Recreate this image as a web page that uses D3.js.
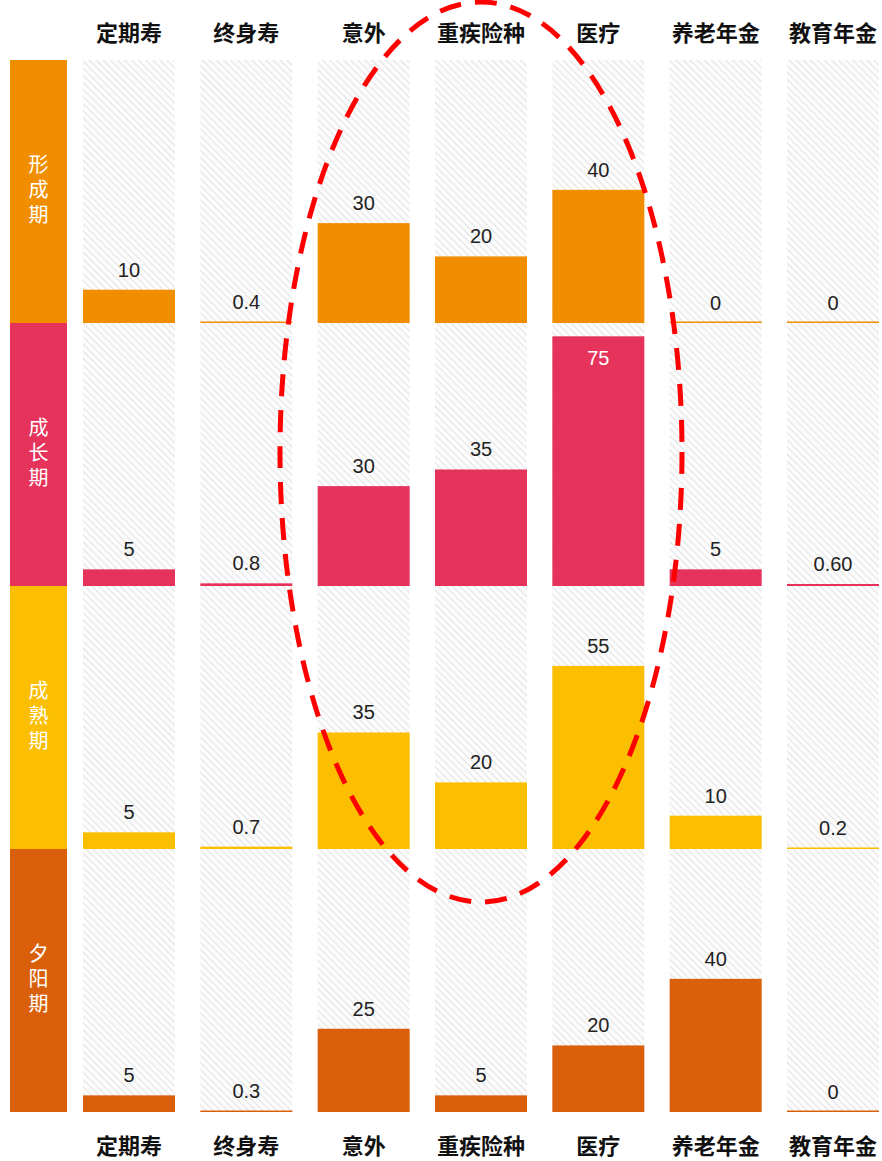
<!DOCTYPE html>
<html>
<head>
<meta charset="utf-8">
<script src="https://cdn.jsdelivr.net/npm/d3@7"></script>
<style>
  html, body { margin: 0; padding: 0; background: #fff; }
  svg { display: block; }
</style>
</head>
<body>
<script>
// Insurance needs by life stage
const categories = ['定期寿', '终身寿', '意外', '重疾险种', '医疗', '养老年金', '教育年金'];
const stages = ['形成期', '成长期', '成熟期', '夕阳期'];
const stageColors = ['#F18E00', '#E5335C', '#FBBE00', '#D95F0B'];

const valuesFormation = [10, 0.4, 30, 20, 40, 0, 0];
const valuesGrowth    = [5, 0.8, 30, 35, 75, 5, 0.6];
const valuesMature    = [5, 0.7, 35, 20, 55, 10, 0.2];
const valuesSunset    = [5, 0.3, 25, 5, 20, 40, 0];

const labelsFormation = ['10', '0.4', '30', '20', '40', '0', '0'];
const labelsGrowth    = ['5', '0.8', '30', '35', '75', '5', '0.60'];
const labelsMature    = ['5', '0.7', '35', '20', '55', '10', '0.2'];
const labelsSunset    = ['5', '0.3', '25', '5', '20', '40', '0'];

const stageValues = [valuesFormation, valuesGrowth, valuesMature, valuesSunset];
const stageLabels = [labelsFormation, labelsGrowth, labelsMature, labelsSunset];

const W = 882, H = 1161;
const svg = d3.select('body').append('svg').attr('width', W).attr('height', H);

// diagonal hatch for column backgrounds
const defs = svg.append('defs');
const pat = defs.append('pattern')
  .attr('id', 'hatch').attr('patternUnits', 'userSpaceOnUse')
  .attr('width', 5).attr('height', 5)
  .attr('patternTransform', 'rotate(-45)');
pat.append('rect').attr('width', 5).attr('height', 5).attr('fill', '#fcfcfc');
pat.append('line').attr('x1', 0).attr('y1', 0).attr('x2', 0).attr('y2', 5)
  .attr('stroke', '#e2e2e2').attr('stroke-width', 2);

const x = d3.scaleBand().domain(categories).range([83, 879]).paddingInner(0.216);
const row = d3.scaleBand().domain(stages).range([60, 1112]);
const h = d3.scaleLinear().domain([0, 79]).range([0, row.bandwidth()]);

const cjk = '"Noto Sans CJK SC", "Noto Sans", sans-serif';
const latin = '"Liberation Sans", Arial, sans-serif';

// column backgrounds
svg.append('g').selectAll('rect').data(categories).join('rect')
  .attr('x', d => x(d)).attr('y', row.range()[0])
  .attr('width', x.bandwidth()).attr('height', row.range()[1] - row.range()[0])
  .attr('fill', 'url(#hatch)');

// stage label column with vertical text
const stageG = svg.append('g');
stageG.selectAll('rect').data(stages).join('rect')
  .attr('x', 10).attr('width', 57)
  .attr('y', d => row(d)).attr('height', row.bandwidth())
  .attr('fill', (d, i) => stageColors[i]);
stageG.selectAll('text').data(stages).join('text')
  .attr('x', 38.5)
  .attr('y', d => row(d) + row.bandwidth() / 2)
  .attr('text-anchor', 'middle')
  .style('writing-mode', 'vertical-rl')
  .style('text-orientation', 'upright')
  .style('letter-spacing', '5px')
  .attr('fill', '#fff')
  .attr('font-family', cjk).attr('font-size', 20)
  .text(d => d);

// bars and value labels
stages.forEach((s, i) => {
  const base = row(s) + row.bandwidth();
  const g = svg.append('g');
  const data = categories.map((c, k) => ({ c, v: stageValues[i][k], label: stageLabels[i][k] }));
  const inside = d => base - h(d.v) - 40 < row(s);
  g.selectAll('rect').data(data).join('rect')
    .attr('x', d => x(d.c)).attr('width', x.bandwidth())
    .attr('y', d => base - Math.max(h(d.v), 1.5))
    .attr('height', d => Math.max(h(d.v), 1.5))
    .attr('fill', stageColors[i]);
  g.selectAll('text').data(data).join('text')
    .attr('x', d => x(d.c) + x.bandwidth() / 2)
    .attr('y', d => {
      const top = base - h(d.v);
      return inside(d) ? top + 29 : top - 13;
    })
    .attr('text-anchor', 'middle')
    .attr('fill', d => inside(d) ? '#fff' : '#222')
    .attr('font-family', latin).attr('font-size', 20)
    .text(d => d.label);
});

// category headers, top and bottom
[33, 1146].forEach(yy => {
  svg.append('g').selectAll('text').data(categories).join('text')
    .attr('x', d => x(d) + x.bandwidth() / 2)
    .attr('y', yy).attr('dy', '0.35em')
    .attr('text-anchor', 'middle')
    .attr('fill', '#111')
    .attr('font-family', cjk).attr('font-size', 22).attr('font-weight', 'bold')
    .text(d => d);
});

// highlight ellipse around accident / critical illness / medical
svg.append('ellipse')
  .attr('cx', x('重疾险种') + x.bandwidth() / 2).attr('cy', 452)
  .attr('rx', 201).attr('ry', 450)
  .attr('fill', 'none').attr('stroke', '#ff0000')
  .attr('stroke-width', 5).attr('stroke-dasharray', '22 14');
</script>
</body>
</html>
